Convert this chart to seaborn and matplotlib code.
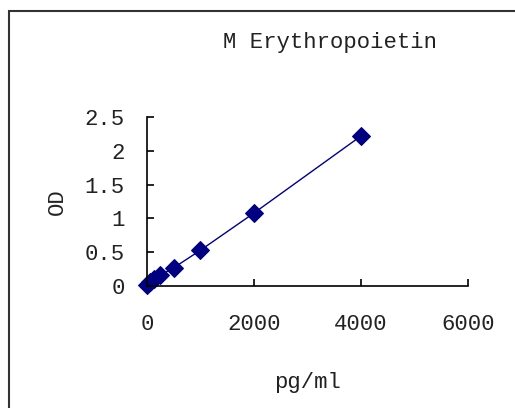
import matplotlib
matplotlib.use("Agg")
import matplotlib.pyplot as plt
import seaborn as sns
import pandas as pd
from matplotlib.patches import Rectangle

# standard curve values
conc = [0, 62.5, 125, 250, 500, 1000, 2000, 4000]
od = [0.02, 0.06, 0.10, 0.16, 0.27, 0.53, 1.08, 2.22]
x_ticks = [0, 2000, 4000, 6000]
y_ticks = [0, 0.5, 1, 1.5, 2, 2.5]
y_tick_labels = ["0", "0.5", "1", "1.5", "2", "2.5"]

df = pd.DataFrame({"pg/ml": conc, "OD": od})

sns.set_style("white")
plt.rcParams['font.family'] = ['Liberation Mono', 'DejaVu Sans Mono']

fig = plt.figure(figsize=(5.15, 4.08), dpi=100)
ax = fig.add_axes([0.2854, 0.299, 0.6233, 0.414])

sns.lineplot(data=df, x="pg/ml", y="OD", ax=ax, color="#000080", linewidth=1,
             marker="D", markersize=9, markeredgecolor="#000080")

ax.set_xlim(0, 6000)
ax.set_ylim(0, 2.5)
ax.set_xticks(x_ticks)
ax.set_yticks(y_ticks)
ax.set_yticklabels(y_tick_labels)
ax.tick_params(axis="x", bottom=True, direction="in", length=5, width=1.2, pad=20,
               labelsize=16, colors="black", labelcolor="#222222")
ax.tick_params(axis="y", left=True, direction="in", length=5, width=1.2, pad=16,
               labelsize=16, colors="black", labelcolor="#222222")
for side in ["top", "right"]:
    ax.spines[side].set_visible(False)
for side in ["left", "bottom"]:
    ax.spines[side].set_linewidth(1.2)
    ax.spines[side].set_color("black")
for ln in ax.lines:
    ln.set_clip_on(False)

ax.set_xlabel("pg/ml", fontsize=16, labelpad=27, color="#222222")
ax.set_ylabel("OD", fontsize=16, labelpad=12, color="#222222")
fig.text(0.64, 0.895, "M Erythropoietin", fontsize=16, ha="center", va="center",
         color="#222222")

fig.patches.append(Rectangle((9 / 515, -0.1), 1.1, 0.973 + 0.1, transform=fig.transFigure,
                             fill=False, edgecolor="#333333", linewidth=1.5))

fig.savefig("out.png", dpi=100)
